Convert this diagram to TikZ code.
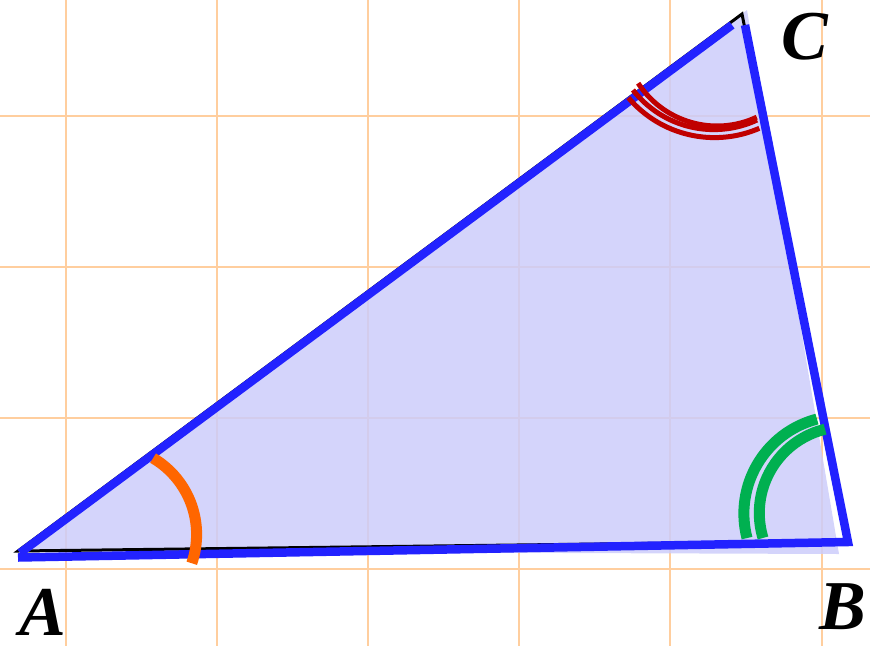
\documentclass[tikz,border=0pt]{standalone}
\usepackage{fontspec}
\setmainfont{Liberation Serif}
\definecolor{gridc}{RGB}{255,206,158}
\definecolor{fillc}{RGB}{204,204,250}
\definecolor{bluec}{RGB}{34,34,255}
\definecolor{orangec}{RGB}{255,102,0}
\definecolor{greenc}{RGB}{0,176,80}
\definecolor{redc}{RGB}{192,0,0}
\begin{document}
\begin{tikzpicture}[x=1pt,y=-1pt,
  gridline/.style={draw=gridc,line width=2pt},
  trifill/.style={fill=fillc,fill opacity=0.85},
  blackedge/.style={draw=black,line width=3pt,line join=miter},
  blueedge/.style={draw=bluec,line width=8.5pt,line cap=butt,line join=miter},
  anglemark/.style={line width=11pt,line cap=butt},
  redmark/.style={draw=redc,line width=5pt,line cap=butt},
  vlabel/.style={font=\fontsize{70}{70}\selectfont\bfseries\itshape,inner sep=0pt}]
\useasboundingbox (0,0) rectangle (870,646);
% grid
\foreach \gx in {66,217.1,368.2,519.3,670.4,821.5}
  \draw[gridline] (\gx,0) -- (\gx,646);
\foreach \gy in {115.7,266.8,417.9,569}
  \draw[gridline] (0,\gy) -- (870,\gy);
% fill
\coordinate (Af) at (18,551);
\coordinate (Bf) at (839,554);
\coordinate (Cf) at (747,10);
\fill[trifill] (Af) -- (Bf) -- (Cf) -- cycle;
% black triangle
\coordinate (Ak) at (18,551);
\coordinate (Bk) at (848,541);
\coordinate (Ck) at (742,14);
\draw[blackedge] (Ak) -- (Bk) -- (Ck) -- cycle;
% blue sides
\coordinate (Ab1) at (18,557.5);
\coordinate (Ab2) at (20,553);
\coordinate (Bb) at (848,542);
\coordinate (Cb1) at (732,25);
\coordinate (Cb2) at (745,25);
\draw[blueedge] (Ab1) -- (Bb) -- (Cb2);
\draw[blueedge] (Ab2) -- (Cb1);
% orange angle mark at A
\coordinate (OA) at (108,534.4);
\draw[anglemark,draw=orangec] (OA) ++(-59.4:88.6) arc[start angle=-59.4,end angle=19,radius=88.6];
% green angle marks at B
\coordinate (OB1) at (841.6,513.6);
\coordinate (OB2) at (845.6,513);
\draw[anglemark,draw=greenc] (OB1) ++(-104.6:97.7) arc[start angle=-104.6,end angle=-194.5,radius=97.7];
\draw[anglemark,draw=greenc] (OB2) ++(-103.8:86.3) arc[start angle=-103.8,end angle=-196.8,radius=86.3];
% red angle marks at C
\coordinate (OC1) at (717,32);
\coordinate (OC2) at (713.8,27.3);
\coordinate (OC3) at (714.5,24.7);
\draw[redmark] (OC1) ++(-213:94) arc[start angle=-213,end angle=-295,radius=94];
\draw[redmark] (OC2) ++(-217.8:102.3) arc[start angle=-217.8,end angle=-295,radius=102.3];
\draw[redmark] (OC3) ++(-220.3:112.9) arc[start angle=-220.3,end angle=-293.4,radius=112.9];
% labels
\node[vlabel] (LA) at (43,612) {A};
\node[vlabel] (LB) at (843,607) {B};
\node[vlabel] (LC) at (805,37) {C};
\end{tikzpicture}
\end{document}
